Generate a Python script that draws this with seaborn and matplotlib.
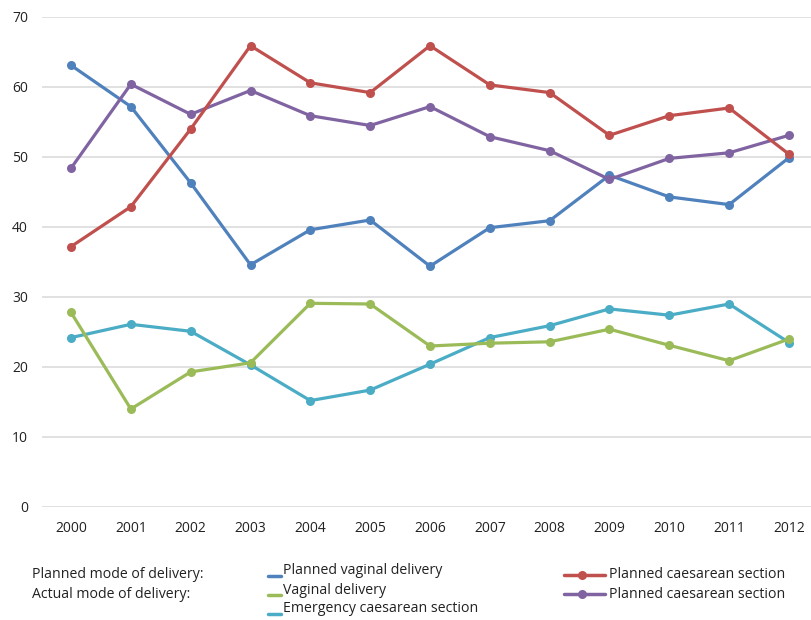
import matplotlib
matplotlib.use("Agg")
import matplotlib.pyplot as plt
import seaborn as sns
import pandas as pd
from matplotlib.lines import Line2D

years = list(range(2000, 2013))
planned_vaginal = [63.1, 57.2, 46.3, 34.6, 39.6, 41.0, 34.4, 39.9, 40.9, 47.4, 44.3, 43.2, 49.9]
planned_caesarean = [37.2, 42.9, 54.0, 65.9, 60.6, 59.2, 65.9, 60.3, 59.2, 53.1, 55.9, 57.0, 50.4]
actual_planned_caesarean = [48.4, 60.4, 56.1, 59.5, 55.9, 54.5, 57.2, 52.9, 50.9, 46.8, 49.8, 50.6, 53.1]
vaginal_delivery = [27.8, 14.0, 19.3, 20.6, 29.1, 29.0, 23.0, 23.4, 23.6, 25.4, 23.1, 20.9, 24.0]
emergency_caesarean = [24.2, 26.1, 25.1, 20.3, 15.2, 16.7, 20.4, 24.2, 25.9, 28.3, 27.4, 29.0, 23.5]

series_keys = ["pv", "pc", "apc", "vd", "ec"]
series_values = [planned_vaginal, planned_caesarean, actual_planned_caesarean,
                 vaginal_delivery, emergency_caesarean]
series_labels = ["Planned vaginal delivery", "Planned caesarean section",
                 "Planned caesarean section", "Vaginal delivery",
                 "Emergency caesarean section"]
colors = {"pv": "#4F81BD", "pc": "#C0504D", "apc": "#8064A2",
          "vd": "#9BBB59", "ec": "#4BACC6"}
y_ticks = [0, 10, 20, 30, 40, 50, 60, 70]

rows = []
for k, vals in zip(series_keys, series_values):
    for yr, v in zip(years, vals):
        rows.append({"year": yr, "value": v, "series": k})
df = pd.DataFrame(rows)

sns.set_theme(style="white")
plt.rcParams["font.family"] = ["Open Sans", "DejaVu Sans"]

fig = plt.figure(figsize=(8.12, 6.2), dpi=100)
ax = fig.add_axes([42 / 812, 1 - 507 / 620, 1 - 42 / 812, (507 - 17) / 620])

order = ["ec", "vd", "pv", "apc", "pc"]
for k in order:
    sns.lineplot(data=df[df["series"] == k], x="year", y="value", ax=ax,
                 color=colors[k], linewidth=2.3, marker="o", markersize=6.5,
                 markeredgewidth=0, legend=False, zorder=3)

ax.set_xlim(1999.515, 2012.385)
ax.set_ylim(0, 70)
ax.set_yticks(y_ticks)
ax.set_xticks(years)
ax.set_xticklabels([str(y) for y in years])
ax.set_xlabel("")
ax.set_ylabel("")
ax.grid(axis="y", color="#D9D9D9", linewidth=1.1)
ax.grid(axis="x", visible=False)
for s in ax.spines.values():
    s.set_visible(False)
ax.tick_params(axis="y", length=0, pad=10, labelsize=10, colors="#222222")
ax.tick_params(axis="x", length=0, pad=10, labelsize=10, colors="#222222")
for lab in ax.get_yticklabels():
    lab.set_horizontalalignment("right")

# legend (custom layout)
def fy(p):
    return 1 - p / 620

def fx(p):
    return p / 812

fs = 10.2
fig.text(fx(32), fy(574), "Planned mode of delivery:", fontsize=fs, va="center", color="#222222")
fig.text(fx(32), fy(594), "Actual mode of delivery:", fontsize=fs, va="center", color="#222222")

col2 = [("pv", 571), ("vd", 590), ("ec", 609)]
for k, yp in col2:
    idx = series_keys.index(k)
    fig.add_artist(Line2D([fx(268), fx(281)], [fy(yp + 5), fy(yp + 5)],
                          color=colors[k], linewidth=2.5, transform=fig.transFigure))
    fig.text(fx(283), fy(yp), series_labels[idx], fontsize=fs, va="center", color="#222222")

col3 = [("pc", 575, 1), ("apc", 594, 2)]
for k, yp, idx in col3:
    fig.add_artist(Line2D([fx(564), fx(605)], [fy(yp), fy(yp)],
                          color=colors[k], linewidth=2.5, transform=fig.transFigure))
    fig.add_artist(Line2D([fx(582)], [fy(yp)], color=colors[k], marker="o",
                          markersize=6.5, markeredgewidth=0, transform=fig.transFigure))
    fig.text(fx(609), fy(yp), series_labels[idx], fontsize=fs, va="center", color="#222222")

fig.savefig("out.png", dpi=100)
